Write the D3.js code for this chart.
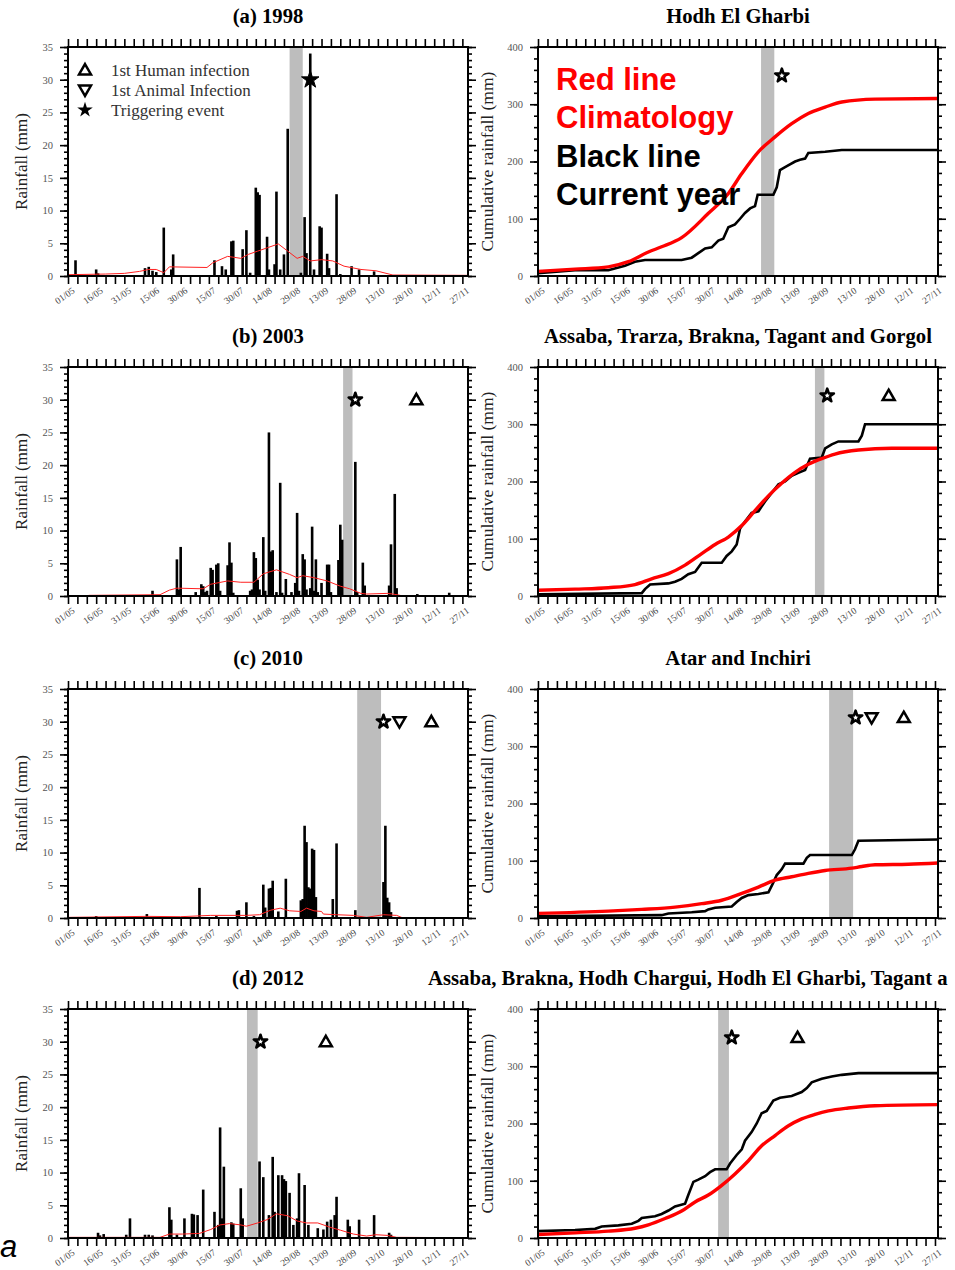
<!DOCTYPE html>
<html><head><meta charset="utf-8">
<script src="https://cdn.jsdelivr.net/npm/d3@7"></script>
<style>body{margin:0;background:#fff}svg{display:block}</style>
</head><body>
<svg id="c" width="955" height="1270"></svg>
<script>
// ---------- DATA (day index: 0 = 01/05) ----------
const xTickLabels = ["01/05","16/05","31/05","15/06","30/06","15/07","30/07","14/08","29/08","13/09","28/09","13/10","28/10","12/11","27/11"];
const rainTicks = [0,5,10,15,20,25,30,35];
const cumTicks = [0,100,200,300,400];

const leftTitles = ["(a) 1998","(b) 2003","(c) 2010","(d) 2012"];
const rightTitles = ["Hodh El Gharbi","Assaba, Trarza, Brakna, Tagant and Gorgol","Atar and Inchiri","Assaba, Brakna, Hodh Chargui, Hodh El Gharbi, Tagant a"];

// daily rainfall (mm) [day, value]
const rain1998 = [[4,2.4],[15,1.0],[16,0.4],[41,1.2],[43,1.4],[45,0.8],[47,0.6],[51,7.4],[55,1.0],[56,3.3],[78,2.4],[82,1.5],[84,1.0],[87,5.3],[88,5.4],[93,4.1],[95,7.0],[97,0.5],[100,13.5],[101,12.8],[102,12.4],[106,6.0],[107,1.0],[110,1.8],[111,12.9],[113,1.0],[115,3.3],[117,22.5],[124,0.5],[126,9.0],[127,3.5],[129,34.0],[131,1.0],[134,7.6],[135,7.4],[138,3.4],[139,1.2],[143,12.5],[145,0.3],[151,1.5],[155,1.0],[163,0.7],[195,0.1]];
const rain2003 = [[45,0.8],[58,5.6],[59,1.0],[60,7.5],[68,0.6],[71,1.8],[72,1.5],[73,0.6],[74,0.8],[76,4.3],[77,4.0],[79,4.8],[80,5.0],[81,0.8],[85,4.7],[86,8.2],[87,5.1],[88,0.5],[97,0.8],[98,1.0],[99,6.7],[100,5.8],[101,2.5],[102,1.0],[104,9.0],[105,0.8],[107,25.0],[108,6.8],[109,7.0],[111,0.6],[113,17.3],[114,0.5],[116,2.6],[119,0.6],[121,2.0],[122,12.7],[123,0.8],[125,6.4],[126,5.6],[127,1.0],[129,1.2],[130,10.6],[131,0.8],[132,5.6],[133,0.6],[135,2.0],[138,4.8],[139,4.8],[140,0.6],[144,5.5],[145,10.9],[146,8.6],[153,20.5],[154,0.6],[157,5.1],[158,1.6],[171,1.6],[172,7.9],[174,15.6],[175,1.2],[186,0.3],[203,0.5]];
const rain2010 = [[15,0.3],[42,0.6],[70,4.6],[79,0.3],[90,1.1],[91,1.2],[95,2.4],[99,0.3],[104,5.1],[105,1.6],[107,4.5],[108,4.6],[109,5.7],[112,1.0],[116,6.0],[124,2.7],[125,2.9],[126,14.1],[127,11.6],[128,4.7],[129,4.5],[130,10.6],[131,10.4],[132,3.2],[141,2.9],[143,11.4],[153,1.2],[168,5.5],[169,14.1],[170,3.1],[171,2.4],[172,0.9]];
const rain2012 = [[16,0.8],[17,0.4],[19,0.6],[31,0.5],[33,3.0],[41,0.5],[43,0.5],[45,0.4],[54,4.7],[55,2.8],[58,0.5],[62,3.0],[66,3.7],[67,3.6],[69,3.5],[72,7.4],[78,4.0],[80,2.0],[81,16.9],[82,3.0],[83,10.9],[87,2.4],[88,2.2],[92,7.6],[93,3.0],[102,11.7],[104,9.3],[107,3.5],[109,12.4],[110,4.0],[112,9.6],[114,9.6],[115,9.0],[116,8.7],[118,6.9],[120,2.0],[122,3.0],[123,9.9],[126,8.1],[128,2.0],[133,1.5],[136,1.3],[138,2.5],[140,2.8],[142,3.5],[143,6.3],[149,2.8],[150,1.8],[155,2.8],[163,3.5],[171,0.8],[172,0.5]];

// daily climatology (mm) [day, value]
const clim1998 = [[0,0.2],[20,0.3],[30,0.4],[38,0.7],[43,1.0],[47,1.0],[51,0.5],[54,1.4],[74,1.3],[77,2.0],[85,3.0],[92,2.7],[96,3.3],[101,3.8],[106,4.3],[112,4.9],[117,3.8],[122,2.7],[125,3.0],[129,2.3],[135,2.5],[141,2.3],[147,1.5],[156,1.0],[164,0.8],[173,0.15],[213,0.1]];
const clim2003 = [[11,0.1],[49,0.2],[54,0.9],[58,1.2],[72,1.1],[76,1.8],[85,2.3],[92,2.1],[99,2.1],[104,3.4],[111,4.0],[118,3.3],[122,2.8],[125,3.1],[131,2.8],[138,2.3],[145,1.5],[150,1.1],[156,0.4],[159,0.3],[170,0.4],[173,0.3],[177,0.1]];
const clim2010 = [[0,0.1],[42,0.25],[60,0.2],[76,0.4],[95,0.4],[102,0.5],[108,1.2],[113,1.5],[118,1.1],[124,1.0],[127,1.5],[131,1.1],[135,1.0],[136,0.6],[143,0.5],[152,0.4],[159,0.1],[168,0.5],[175,0.4],[178,0.05],[213,0.05]];
const clim2012 = [[0,0.1],[49,0.1],[54,0.6],[61,0.6],[70,0.7],[76,1.3],[81,2.0],[86,2.2],[92,2.0],[95,1.8],[101,2.3],[106,2.8],[111,3.7],[117,3.4],[122,2.6],[127,2.3],[133,2.3],[140,1.6],[145,1.2],[152,0.6],[159,0.3],[164,0.5],[170,0.4],[175,0.1],[213,0.05]];

// cumulative rainfall (mm) current year [day, value]
const cumObs1998 = [[0,5],[19.6,10],[37.2,10],[46,18],[51.3,25],[56.6,28],[76,28],[81.3,32],[84.8,40],[88.4,48],[91.9,50],[95.4,62],[98,65],[100.7,85],[104.2,90],[106.9,100],[109.5,110],[112.2,118],[114.8,122],[116.2,142],[124.5,142],[126.3,155],[128,185],[130.7,190],[133.3,195],[136,200],[138.6,203],[141.3,205],[143,215],[151.9,217],[160.7,220],[211.6,220]];
const cumObs2003 = [[0,3],[54.9,5],[56.6,12],[59.3,20],[69,22],[72.5,25],[76,30],[79.5,38],[83.1,42],[86.6,58],[97.2,58],[99.8,70],[102.5,78],[105.1,90],[106.9,118],[109.5,130],[113,145],[116.6,148],[120.1,165],[123.6,180],[127.2,195],[130.7,200],[134.2,210],[137.7,215],[141.3,220],[143.9,240],[150.1,242],[151.9,258],[155.4,265],[158.9,270],[169.5,270],[171.3,280],[173,300],[211.6,300]];
const cumObs2010 = [[0,3],[65.4,5],[69,8],[81.3,10],[88.4,12],[90.1,15],[93.7,18],[102.5,20],[105.1,28],[107.8,35],[111.3,40],[116.6,42],[121.9,45],[124.2,60],[126.3,75],[128.9,85],[130.7,95],[140.4,95],[142.2,105],[143.9,110],[166,110],[167.7,120],[169.5,135],[211.6,137]];
const cumObs2012 = [[0,12],[19.6,14],[30.2,16],[33.7,20],[42.5,22],[49.6,25],[53.1,30],[54.9,35],[61.9,38],[65.4,42],[69,48],[72.5,55],[77.8,60],[79.5,75],[82.2,98],[84.8,102],[88.4,108],[91,115],[93.7,120],[99.8,120],[101.6,130],[105.1,145],[107.8,155],[109.5,170],[113,185],[115.7,200],[118.3,218],[121,222],[124.5,240],[128,245],[134.2,248],[139.5,255],[142.2,262],[144.8,272],[150.1,278],[155.4,282],[160.7,285],[169.5,288],[211.6,288]];

// cumulative climatology (mm) [day, value]
const cumClim1998 = [[0,8],[19.6,12],[37.2,16],[47.8,25],[58.4,42],[65.4,51],[76,67],[90,109],[100.7,144],[107.8,179],[116.6,217],[125.4,243],[134.2,266],[143,284],[151.9,295],[160.7,304],[178.3,309],[211.6,310]];
const cumClim2003 = [[0,10],[19.6,12],[37.2,14.5],[51.3,20],[60.1,30],[69,39],[77.8,54],[86.6,74],[93.7,90],[100.7,103],[107.8,123],[114.8,149],[121.9,175],[128.9,197],[136,216],[143,230],[150.1,240],[157.1,248],[169.5,255],[187.1,258],[211.6,258]];
const cumClim2010 = [[0,8],[37.2,12],[54.9,15],[72.5,19],[86.6,25],[97.2,31],[107.8,43],[116.6,54],[125.4,66],[134.2,72],[143,78],[151.9,83],[166,87],[171.3,90],[178.3,93],[195.9,94],[211.6,96]];
const cumClim2012 = [[0,6],[19.6,9],[37.2,12],[51.3,17],[58.4,23],[67.2,34],[76,47],[83.1,63],[90.1,75],[97.2,92],[104.2,112],[111.3,135],[118.3,161],[125.4,179],[132.5,196],[139.5,208],[146.6,216],[153.6,222],[164.2,227],[178.3,231],[211.6,233]];

// shaded periods [startDay, endDay]
const shades = [[118,125],[146.5,151.5],[154,166.7],[95.3,101]];
// markers [type, day]
const marks1998 = [["star",129]];
const marks2003 = [["star",153],["up",185.5]];
const marks2010 = [["star",168],["down",176.5],["up",193.5]];
const marks2012 = [["star",102.5],["up",137.3]];

// ---------- DRAW ----------
const svg = d3.select("#c");
const rowTops = [47, 367, 689, 1009];
const H = 229;
const serif = "'Liberation Serif','Times New Roman',serif";
const sans = "'Liberation Sans',Arial,sans-serif";
const dayTicks = d3.range(0, 211, 5);

const panels = [
  {rain:rain1998, clim:clim1998, obs:cumObs1998, cc:cumClim1998, marks:marks1998},
  {rain:rain2003, clim:clim2003, obs:cumObs2003, cc:cumClim2003, marks:marks2003},
  {rain:rain2010, clim:clim2010, obs:cumObs2010, cc:cumClim2010, marks:marks2010},
  {rain:rain2012, clim:clim2012, obs:cumObs2012, cc:cumClim2012, marks:marks2012}
];

function frame(g, x, y, majors, minorStep, top, bot) {
  const [x0, x1] = x.range();
  const bAx = g.append("g").attr("transform", `translate(0,${bot})`)
    .call(d3.axisBottom(x).tickValues(dayTicks).tickSize(8)
      .tickFormat(d => d % 15 === 0 ? xTickLabels[d / 15] : ""));
  bAx.selectAll(".tick text").attr("x", 0).attr("y", 0).attr("dy", 0)
    .attr("text-anchor", "end").attr("transform", "translate(7,16) rotate(-35)")
    .attr("font-family", serif).attr("font-size", 9.5).attr("fill", "#444");
  g.append("g").attr("transform", `translate(0,${top})`)
    .call(d3.axisTop(x).tickValues(dayTicks).tickSize(8).tickFormat(""));
  const ymax = y.domain()[1];
  const minors = d3.range(0, ymax + 0.001, minorStep);
  const lAx = g.append("g").attr("transform", `translate(${x0},0)`)
    .call(d3.axisLeft(y).tickValues(majors).tickSize(8).tickPadding(7));
  lAx.selectAll(".tick text").attr("font-family", serif).attr("font-size", 10.5).attr("fill", "#555");
  g.append("g").attr("transform", `translate(${x0},0)`)
    .call(d3.axisLeft(y).tickValues(minors).tickSize(4).tickFormat(""));
  g.append("g").attr("transform", `translate(${x1},0)`)
    .call(d3.axisRight(y).tickValues(majors).tickSize(8).tickFormat(""));
  g.append("g").attr("transform", `translate(${x1},0)`)
    .call(d3.axisRight(y).tickValues(minors).tickSize(4).tickFormat(""));
  g.selectAll(".domain").remove();
  g.selectAll(".tick line").attr("stroke", "#000").attr("stroke-width", 1.6);
  g.append("rect").attr("x", x0).attr("y", top).attr("width", x1 - x0).attr("height", bot - top)
    .attr("fill", "none").attr("stroke", "#000").attr("stroke-width", 2);
}

function drawMarks(g, x, yv, marks, filledStar) {
  marks.forEach(([t, d]) => {
    const cx = x(d);
    if (t === "star") {
      const big = filledStar;
      g.append("path").attr("d", d3.symbol().type(d3.symbolStar).size(big ? 95 : 55)())
        .attr("transform", `translate(${cx},${yv})`)
        .attr("fill", big ? "#000" : "#fff").attr("stroke", "#000")
        .attr("stroke-width", big ? 1 : 2.6).attr("stroke-linejoin", "round");
    } else {
      g.append("path").attr("d", d3.symbol().type(d3.symbolTriangle).size(62)())
        .attr("transform", `translate(${cx},${yv + (t === "up" ? 1 : -1)}) rotate(${t === "down" ? 180 : 0})`)
        .attr("fill", "#fff").attr("stroke", "#000").attr("stroke-width", 2.5);
    }
  });
}

panels.forEach((p, i) => {
  const top = rowTops[i], bot = top + H;
  const xl = d3.scaleLinear().domain([0, 213]).range([68, 468]);
  const yl = d3.scaleLinear().domain([0, 35]).range([bot, top]);
  const xr = d3.scaleLinear().domain([0, 211.6]).range([538, 938]);
  const yr = d3.scaleLinear().domain([0, 400]).range([bot, top]);
  const sh = shades[i];

  // ---- left panel ----
  const gl = svg.append("g");
  gl.append("rect").attr("x", xl(sh[0])).attr("y", top).attr("width", xl(sh[1]) - xl(sh[0]))
    .attr("height", H).attr("fill", "#bdbdbd");
  gl.selectAll(".bar").data(p.rain).join("rect")
    .attr("x", d => xl(d[0]) - 1.3).attr("width", 2.6)
    .attr("y", d => yl(d[1])).attr("height", d => yl(0) - yl(d[1])).attr("fill", "#000");
  gl.append("path").datum(p.clim)
    .attr("d", d3.line().x(d => xl(d[0])).y(d => yl(d[1])))
    .attr("fill", "none").attr("stroke", "#ff2020").attr("stroke-width", 1);
  frame(gl, xl, yl, rainTicks, 1, top, bot);
  drawMarks(gl, xl, yl(30), p.marks, i === 0);
  gl.append("text").attr("x", 268).attr("y", top - 24).attr("text-anchor", "middle")
    .attr("font-family", serif).attr("font-weight", "bold").attr("font-size", 20.7).text(leftTitles[i]);
  gl.append("text").attr("transform", `translate(27,${(top + bot) / 2}) rotate(-90)`)
    .attr("text-anchor", "middle").attr("font-family", serif).attr("font-size", 17).attr("fill", "#222")
    .text("Rainfall (mm)");

  // ---- right panel ----
  const gr = svg.append("g");
  gr.append("rect").attr("x", xr(sh[0])).attr("y", top).attr("width", xr(sh[1]) - xr(sh[0]))
    .attr("height", H).attr("fill", "#bdbdbd");
  const line = d3.line().x(d => xr(d[0])).y(d => yr(d[1]));
  gr.append("path").datum(p.obs).attr("d", line).attr("fill", "none")
    .attr("stroke", "#000").attr("stroke-width", 2.6);
  gr.append("path").datum(p.cc).attr("d", line.curve(d3.curveMonotoneX)).attr("fill", "none")
    .attr("stroke", "#ff0000").attr("stroke-width", 3.4);
  frame(gr, xr, yr, cumTicks, 20, top, bot);
  drawMarks(gr, xr, yr(350), p.marks, false);
  const rt = gr.append("text").attr("y", top - 24)
    .attr("font-family", serif).attr("font-weight", "bold").attr("font-size", 20.7).text(rightTitles[i]);
  if (i === 3) rt.attr("x", 428).attr("text-anchor", "start");
  else rt.attr("x", 738).attr("text-anchor", "middle");
  gr.append("text").attr("transform", `translate(493,${(top + bot) / 2}) rotate(-90)`)
    .attr("text-anchor", "middle").attr("font-family", serif).attr("font-size", 17.5).attr("fill", "#222")
    .text("Cumulative rainfall (mm)");
});

// legend (a) left
const lg = svg.append("g");
const legendItems = [["up","1st Human infection",70],["down","1st Animal Infection",90],["star","Triggering event",110]];
legendItems.forEach(([t, label, yy]) => {
  if (t === "star") {
    lg.append("path").attr("d", d3.symbol().type(d3.symbolStar).size(75)())
      .attr("transform", `translate(85,${yy})`).attr("fill", "#000");
  } else {
    lg.append("path").attr("d", d3.symbol().type(d3.symbolTriangle).size(62)())
      .attr("transform", `translate(85,${yy + (t === "up" ? 1 : -1)}) rotate(${t === "down" ? 180 : 0})`)
      .attr("fill", "#fff").attr("stroke", "#000").attr("stroke-width", 2.5);
  }
  lg.append("text").attr("x", 111).attr("y", yy + 6).attr("font-family", serif).attr("font-size", 17)
    .attr("fill", "#333").text(label);
});

// legend (a) right
const legendLines = [["Red line","#ff0000",90],["Climatology","#ff0000",128],["Black line","#000",167],["Current year","#000",205]];
legendLines.forEach(([t, c, yy]) => {
  svg.append("text").attr("x", 556).attr("y", yy).attr("font-family", sans).attr("font-weight", "bold")
    .attr("font-size", 31).attr("fill", c).text(t);
});

// panel letter
svg.append("text").attr("x", 0).attr("y", 1257).attr("font-family", sans).attr("font-style", "italic")
  .attr("font-size", 31).attr("fill", "#000").text("a");
</script>
</body></html>
